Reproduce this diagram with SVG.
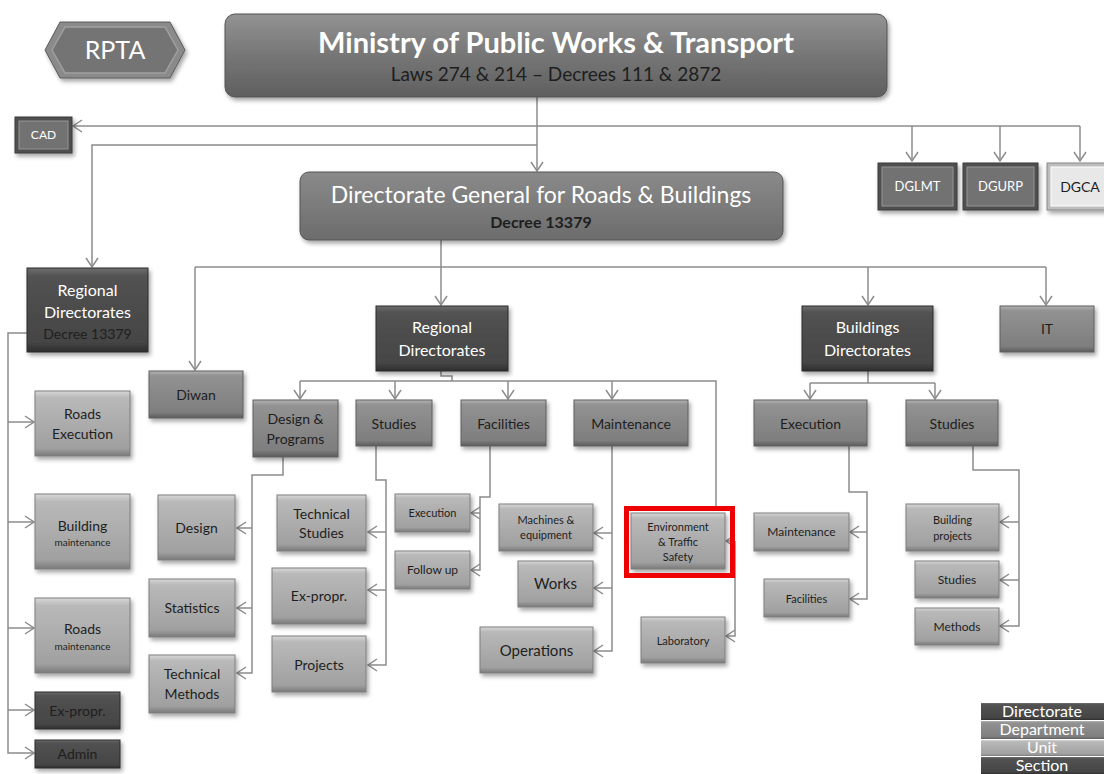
<svg xmlns="http://www.w3.org/2000/svg" width="1104" height="774" viewBox="0 0 1104 774">
  <defs>
    <linearGradient id="gDir" x1="0" y1="0" x2="0" y2="1">
      <stop offset="0" stop-color="#6e6e6e"/>
      <stop offset="0.1" stop-color="#525252"/>
      <stop offset="0.88" stop-color="#454545"/>
      <stop offset="1" stop-color="#2e2e2e"/>
    </linearGradient>
    <linearGradient id="gDept" x1="0" y1="0" x2="0" y2="1">
      <stop offset="0" stop-color="#b4b4b4"/>
      <stop offset="0.1" stop-color="#929292"/>
      <stop offset="0.88" stop-color="#7e7e7e"/>
      <stop offset="1" stop-color="#5c5c5c"/>
    </linearGradient>
    <linearGradient id="gUnit" x1="0" y1="0" x2="0" y2="1">
      <stop offset="0" stop-color="#d8d8d8"/>
      <stop offset="0.1" stop-color="#b9b9b9"/>
      <stop offset="0.88" stop-color="#a0a0a0"/>
      <stop offset="1" stop-color="#7a7a7a"/>
    </linearGradient>
    <linearGradient id="gTop" x1="0" y1="0" x2="0" y2="1">
      <stop offset="0" stop-color="#939393"/>
      <stop offset="0.5" stop-color="#767676"/>
      <stop offset="1" stop-color="#5f5f5f"/>
    </linearGradient>
    <linearGradient id="gDG" x1="0" y1="0" x2="0" y2="1">
      <stop offset="0" stop-color="#8a8a8a"/>
      <stop offset="1" stop-color="#6c6c6c"/>
    </linearGradient>
    <filter id="sh" x="-10%" y="-10%" width="130%" height="140%">
      <feDropShadow dx="2" dy="3" stdDeviation="2" flood-color="#000" flood-opacity="0.35"/>
    </filter>
    <marker id="ah" viewBox="-10 -7 12 14" refX="0" refY="0" markerWidth="12" markerHeight="14" orient="auto" markerUnits="userSpaceOnUse">
      <path d="M-9,-6 L0,0 L-9,6" fill="none" stroke="#8c8c8c" stroke-width="1.5"/>
    </marker>
    <style>
      text { font-family: Lato, "Open Sans", "Liberation Sans", sans-serif; text-anchor: middle; }
      .dir { fill: url(#gDir); stroke: #2a2a2a; stroke-width: 1; filter: url(#sh); }
      .dept { fill: url(#gDept); stroke: #5e5e5e; stroke-width: 1; filter: url(#sh); }
      .unit { fill: url(#gUnit); stroke: #7e7e7e; stroke-width: 1; filter: url(#sh); }
      .w { fill: #ffffff; }
      .d { fill: #1e1e1e; }
      .f15 { font-size: 15px; }
      .f14 { font-size: 14px; }
      .f12 { font-size: 12px; }
      .f11 { font-size: 11px; }
      .f10 { font-size: 10px; }
      .c { fill: none; stroke: #8c8c8c; stroke-width: 1.5; }
      .a { marker-end: url(#ah); }
    </style>
  </defs>

  <rect width="1104" height="774" fill="#ffffff"/>

  <!-- connectors -->
  <g id="connectors">
    <path class="c a" d="M537,97 V171"/>
    <path class="c a" d="M1080,126 H73"/>
    <path class="c a" d="M912,126 V161"/>
    <path class="c a" d="M1000,126 V161"/>
    <path class="c a" d="M1080,126 V161"/>
    <path class="c a" d="M537,145 H92 V267"/>

    <path class="c a" d="M441,240 V305"/>
    <path class="c" d="M195,267 H1046"/>
    <path class="c a" d="M195,267 V370"/>
    <path class="c a" d="M868,267 V305"/>
    <path class="c a" d="M1046,267 V305"/>

    <path class="c a" d="M27,333 H8 V753 H34"/>
    <path class="c a" d="M8,422 H34"/>
    <path class="c a" d="M8,522 H34"/>
    <path class="c a" d="M8,628 H34"/>
    <path class="c a" d="M8,710 H34"/>

    <path class="c" d="M441,371 V376 H452 V381"/>
    <path class="c" d="M300,381 H716 V507"/>
    <path class="c a" d="M300,381 V399"/>
    <path class="c a" d="M395,381 V399"/>
    <path class="c a" d="M508,381 V399"/>
    <path class="c a" d="M612,381 V399"/>

    <path class="c a" d="M283,457 V475 H252 V673 H237"/>
    <path class="c a" d="M252,528 H237"/>
    <path class="c a" d="M252,608 H237"/>

    <path class="c a" d="M376,446 V480 H386 V665 H368"/>
    <path class="c a" d="M386,532 H368"/>
    <path class="c a" d="M386,590 H368"/>

    <path class="c a" d="M490,446 V497 H480 V570 H471"/>
    <path class="c a" d="M480,513 H471"/>

    <path class="c a" d="M612,446 V651 H594"/>
    <path class="c a" d="M612,533 H594"/>
    <path class="c a" d="M612,588 H594"/>

    <path class="c a" d="M735,541 V636 H726"/>
    <path class="c a" d="M735,541 H726"/>

    <path class="c" d="M868,371 V383"/>
    <path class="c" d="M810,383 H935"/>
    <path class="c a" d="M810,383 V399"/>
    <path class="c a" d="M935,383 V399"/>

    <path class="c a" d="M849,446 V492 H867 V599 H850"/>
    <path class="c a" d="M867,532 H850"/>

    <path class="c a" d="M973,446 V470 H1019 V626 H1000"/>
    <path class="c a" d="M1019,522 H1000"/>
    <path class="c a" d="M1019,580 H1000"/>
  </g>

  <!-- top level -->
  <g id="rpta">
    <polygon points="45,50 60,22 170,22 185,50 170,78 60,78" fill="#8a8a8a" stroke="#5a5a5a" stroke-width="1" filter="url(#sh)"/>
    <polygon points="52,50 65,27 165,27 178,50 165,73 65,73" fill="#747474" stroke="#a0a0a0" stroke-width="1.5"/>
    <text class="w" x="115" y="59" font-size="25">RPTA</text>
  </g>

  <g id="ministry">
    <rect x="225" y="14" width="662" height="83" rx="10" fill="url(#gTop)" stroke="#555" stroke-width="1" filter="url(#sh)"/>
    <text class="w" x="556" y="53" font-size="29" font-weight="bold">Ministry of Public Works &amp; Transport</text>
    <text class="d" x="556" y="81" font-size="19">Laws 274 &amp; 214 – Decrees 111 &amp; 2872</text>
  </g>

  <g id="cad">
    <rect x="15" y="117" width="57" height="36" fill="#505050" stroke="#3a3a3a" filter="url(#sh)"/>
    <rect x="19" y="121" width="49" height="28" fill="#727272" stroke="#959595"/>
    <text class="w f12" x="43.5" y="139">CAD</text>
  </g>

  <g id="dglmt">
    <rect x="878" y="163" width="79" height="47" fill="#505050" stroke="#3a3a3a" filter="url(#sh)"/>
    <rect x="882" y="167" width="71" height="39" fill="#727272" stroke="#959595"/>
    <text class="w" x="917.5" y="191" font-size="13">DGLMT</text>
  </g>

  <g id="dgurp">
    <rect x="963" y="163" width="75" height="47" fill="#505050" stroke="#3a3a3a" filter="url(#sh)"/>
    <rect x="967" y="167" width="67" height="39" fill="#727272" stroke="#959595"/>
    <text class="w" x="1000.5" y="191" font-size="13">DGURP</text>
  </g>

  <g id="dgca">
    <rect x="1047" y="163" width="62" height="47" fill="#bdbdbd" stroke="#8a8a8a" filter="url(#sh)"/>
    <rect x="1051" y="167" width="58" height="39" fill="#e8e8e8" stroke="#ffffff"/>
    <text class="d" x="1080" y="192" font-size="14">DGCA</text>
  </g>

  <g id="dg">
    <rect x="300" y="172" width="483" height="68" rx="9" fill="url(#gDG)" stroke="#555" stroke-width="1" filter="url(#sh)"/>
    <text class="w" x="541" y="203" font-size="23">Directorate General for Roads &amp; Buildings</text>
    <text class="d" x="541" y="228" font-size="16" font-weight="bold">Decree 13379</text>
  </g>

  <!-- regional directorates (left branch) -->
  <g id="reg-left">
    <rect class="dir" x="27" y="268" width="121" height="84"/>
    <text class="w" x="87.5" y="296" font-size="16">Regional</text>
    <text class="w" x="87.5" y="318" font-size="16">Directorates</text>
    <text class="d f14" x="87.5" y="339">Decree 13379</text>
  </g>
  <g id="roads-execution">
    <rect class="unit" x="35" y="391" width="95" height="65"/>
    <text class="d f14" x="82.5" y="419">Roads</text>
    <text class="d f14" x="82.5" y="439">Execution</text>
  </g>
  <g id="building-maintenance">
    <rect class="unit" x="35" y="494" width="95" height="75"/>
    <text class="d f14" x="82.5" y="531">Building</text>
    <text class="d f10" x="82.5" y="546">maintenance</text>
  </g>
  <g id="roads-maintenance">
    <rect class="unit" x="35" y="598" width="95" height="75"/>
    <text class="d f14" x="82.5" y="634">Roads</text>
    <text class="d f10" x="82.5" y="650">maintenance</text>
  </g>
  <g id="expropr-left">
    <rect class="dir" x="35" y="692" width="85" height="37"/>
    <text class="d f14" x="77.5" y="716">Ex-propr.</text>
  </g>
  <g id="admin">
    <rect class="dir" x="35" y="740" width="85" height="28"/>
    <text class="d f14" x="77.5" y="759">Admin</text>
  </g>

  <g id="diwan">
    <rect class="dept" x="149" y="371" width="94" height="47"/>
    <text class="d f14" x="196" y="400">Diwan</text>
  </g>

  <!-- regional directorates (centre branch) -->
  <g id="reg-centre">
    <rect class="dir" x="376" y="306" width="132" height="65"/>
    <text class="w" x="442" y="333" font-size="16">Regional</text>
    <text class="w" x="442" y="356" font-size="16">Directorates</text>
  </g>
  <g id="design-programs">
    <rect class="dept" x="253" y="400" width="85" height="57"/>
    <text class="d f14" x="295.5" y="424">Design &amp;</text>
    <text class="d f14" x="295.5" y="444">Programs</text>
  </g>
  <g id="studies">
    <rect class="dept" x="356" y="400" width="76" height="46"/>
    <text class="d f14" x="394" y="429">Studies</text>
  </g>
  <g id="facilities">
    <rect class="dept" x="461" y="400" width="85" height="46"/>
    <text class="d f14" x="503.5" y="429">Facilities</text>
  </g>
  <g id="maintenance">
    <rect class="dept" x="574" y="400" width="114" height="46"/>
    <text class="d f14" x="631" y="429">Maintenance</text>
  </g>

  <g id="design">
    <rect class="unit" x="158" y="495" width="77" height="65"/>
    <text class="d f14" x="196.5" y="533">Design</text>
  </g>
  <g id="statistics">
    <rect class="unit" x="149" y="579" width="86" height="58"/>
    <text class="d f14" x="192" y="613">Statistics</text>
  </g>
  <g id="technical-methods">
    <rect class="unit" x="149" y="655" width="86" height="58"/>
    <text class="d f14" x="192" y="679">Technical</text>
    <text class="d f14" x="192" y="699">Methods</text>
  </g>

  <g id="technical-studies">
    <rect class="unit" x="277" y="495" width="89" height="56"/>
    <text class="d f14" x="321.5" y="519">Technical</text>
    <text class="d f14" x="321.5" y="538">Studies</text>
  </g>
  <g id="expropr-studies">
    <rect class="unit" x="272" y="568" width="94" height="56"/>
    <text class="d f14" x="319" y="601">Ex-propr.</text>
  </g>
  <g id="projects">
    <rect class="unit" x="272" y="636" width="94" height="56"/>
    <text class="d f14" x="319" y="670">Projects</text>
  </g>

  <g id="execution-small">
    <rect class="unit" x="395" y="494" width="75" height="38"/>
    <text class="d f11" x="432.5" y="517">Execution</text>
  </g>
  <g id="follow-up">
    <rect class="unit" x="395" y="551" width="75" height="38"/>
    <text class="d f12" x="432.5" y="574">Follow up</text>
  </g>

  <g id="machines">
    <rect class="unit" x="499" y="504" width="94" height="47"/>
    <text class="d f11" x="546" y="524">Machines &amp;</text>
    <text class="d f11" x="546" y="539">equipment</text>
  </g>
  <g id="works">
    <rect class="unit" x="518" y="561" width="75" height="46"/>
    <text class="d f15" x="555.5" y="589">Works</text>
  </g>
  <g id="operations">
    <rect class="unit" x="480" y="627" width="113" height="46"/>
    <text class="d f15" x="536.5" y="656">Operations</text>
  </g>

  <g id="environment">
    <rect class="unit" x="631" y="513" width="94" height="56"/>
    <text class="d f11" x="678" y="531">Environment</text>
    <text class="d f11" x="678" y="546">&amp; Traffic</text>
    <text class="d f11" x="678" y="561">Safety</text>
    <rect x="626.5" y="508.5" width="106" height="67" fill="none" stroke="#ee0000" stroke-width="5"/>
  </g>
  <g id="laboratory">
    <rect class="unit" x="641" y="617" width="84" height="46"/>
    <text class="d f11" x="683" y="645">Laboratory</text>
  </g>

  <!-- buildings branch -->
  <g id="buildings-dir">
    <rect class="dir" x="802" y="306" width="131" height="65"/>
    <text class="w" x="867.5" y="333" font-size="16">Buildings</text>
    <text class="w" x="867.5" y="356" font-size="16">Directorates</text>
  </g>
  <g id="it">
    <rect class="dept" x="1000" y="306" width="94" height="46"/>
    <text class="d f14" x="1047" y="334">IT</text>
  </g>
  <g id="execution-bld">
    <rect class="dept" x="754" y="400" width="113" height="46"/>
    <text class="d f14" x="810.5" y="429">Execution</text>
  </g>
  <g id="studies-bld">
    <rect class="dept" x="906" y="400" width="92" height="46"/>
    <text class="d f14" x="952" y="429">Studies</text>
  </g>
  <g id="maintenance-bld">
    <rect class="unit" x="754" y="513" width="95" height="38"/>
    <text class="d f12" x="801.5" y="536">Maintenance</text>
  </g>
  <g id="facilities-bld">
    <rect class="unit" x="764" y="579" width="85" height="38"/>
    <text class="d f11" x="806.5" y="603">Facilities</text>
  </g>
  <g id="building-projects">
    <rect class="unit" x="906" y="504" width="93" height="47"/>
    <text class="d f11" x="952.5" y="524">Building</text>
    <text class="d f11" x="952.5" y="540">projects</text>
  </g>
  <g id="studies-small">
    <rect class="unit" x="915" y="561" width="84" height="37"/>
    <text class="d f12" x="957" y="584">Studies</text>
  </g>
  <g id="methods">
    <rect class="unit" x="915" y="608" width="84" height="37"/>
    <text class="d f12" x="957" y="631">Methods</text>
  </g>

  <!-- legend -->
  <g id="legend">
    <rect x="981" y="703" width="123" height="17" fill="url(#gDir)"/>
    <rect x="981" y="721" width="123" height="18" fill="url(#gDept)"/>
    <rect x="981" y="740" width="123" height="16" fill="url(#gUnit)"/>
    <rect x="981" y="757" width="123" height="17" fill="url(#gDir)"/>
    <text class="w" x="1042" y="717" font-size="16">Directorate</text>
    <text class="w" x="1042" y="735" font-size="16">Department</text>
    <text class="w" x="1042" y="753" font-size="16">Unit</text>
    <text class="w" x="1042" y="771" font-size="16">Section</text>
  </g>
</svg>
